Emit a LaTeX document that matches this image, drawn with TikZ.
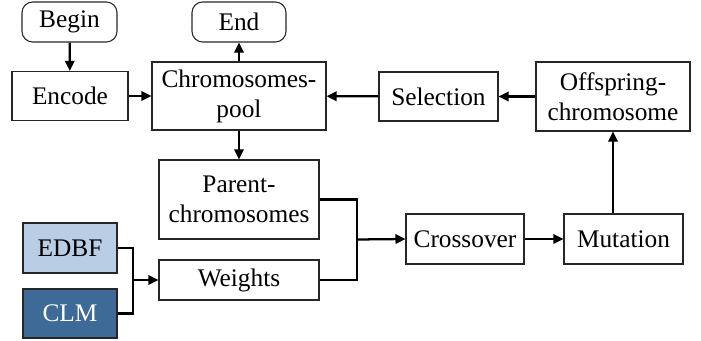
\documentclass[tikz,border=0pt]{standalone}
\usepackage{fontspec}
\setmainfont{Liberation Serif}
\usetikzlibrary{arrows.meta}

\definecolor{edbfblue}{HTML}{B9CDE5}
\definecolor{clmblue}{HTML}{3E6A98}

\begin{document}
\begin{tikzpicture}[
    x=0.75pt,
    y=-0.75pt,
    block/.style={
        rectangle,
        draw=black!85,
        line width=0.8pt,
        align=center,
        inner sep=0pt,
        font=\rmfamily\fontsize{19}{22.5}\selectfont
    },
    terminal/.style={
        block,
        rounded corners=8pt
    },
    edge/.style={
        -{Triangle[length=7.5pt,width=7pt]},
        line width=1.7pt
    },
    link/.style={
        line width=1.7pt
    }
]

    \useasboundingbox (0,0) rectangle (701,341);

    \node[terminal, minimum width=95*0.75pt, minimum height=40*0.75pt] (begin) at (69.5,22) {Begin};
    \node[terminal, minimum width=94*0.75pt, minimum height=40*0.75pt] (end) at (239,22) {End};
    \node[block, minimum width=116*0.75pt, minimum height=49*0.75pt] (encode) at (70,96) {Encode};
    \node[block, minimum width=174*0.75pt, minimum height=68*0.75pt] (pool) at (239,96) {Chromosomes-\\pool};
    \node[block, minimum width=119*0.75pt, minimum height=49*0.75pt] (selection) at (438.5,96.5) {Selection};
    \node[block, minimum width=154*0.75pt, minimum height=69*0.75pt] (offspring) at (613,96.5) {Offspring-\\chromosome};
    \node[block, minimum width=160*0.75pt, minimum height=79*0.75pt] (parent) at (239,199.5) {Parent-\\chromosomes};
    \node[block, minimum width=160*0.75pt, minimum height=40*0.75pt] (weights) at (239,280) {Weights};
    \node[block, fill=edbfblue, minimum width=94*0.75pt, minimum height=50*0.75pt] (edbf) at (70,248) {EDBF};
    \node[block, fill=clmblue, text=white, minimum width=94*0.75pt, minimum height=49*0.75pt] (clm) at (70,313.5) {CLM};
    \node[block, minimum width=118*0.75pt, minimum height=50*0.75pt] (crossover) at (465,239) {Crossover};
    \node[block, minimum width=119*0.75pt, minimum height=50*0.75pt] (mutation) at (623.5,239) {Mutation};

    % junctions
    \coordinate (j1) at (133,280);
    \coordinate (j2) at (357,239.5);

    \draw[edge] (begin) -- (encode);
    \draw[edge] (encode) -- (pool);
    \draw[edge] (pool) -- (end);
    \draw[edge] (pool) -- (parent);
    \draw[edge] (selection) -- (pool);
    \draw[edge] (offspring) -- (selection);
    \draw[edge] (mutation.north -| offspring.south) -- (offspring.south);
    \draw[edge] (crossover) -- (mutation);

    \draw[link] (edbf.east) -| (j1) |- (clm.east);
    \draw[edge] (j1) -- (weights.west);

    \draw[link] (parent.east) -| (j2) |- (weights.east);
    \draw[edge] (j2) -- (crossover.west);

\end{tikzpicture}
\end{document}
